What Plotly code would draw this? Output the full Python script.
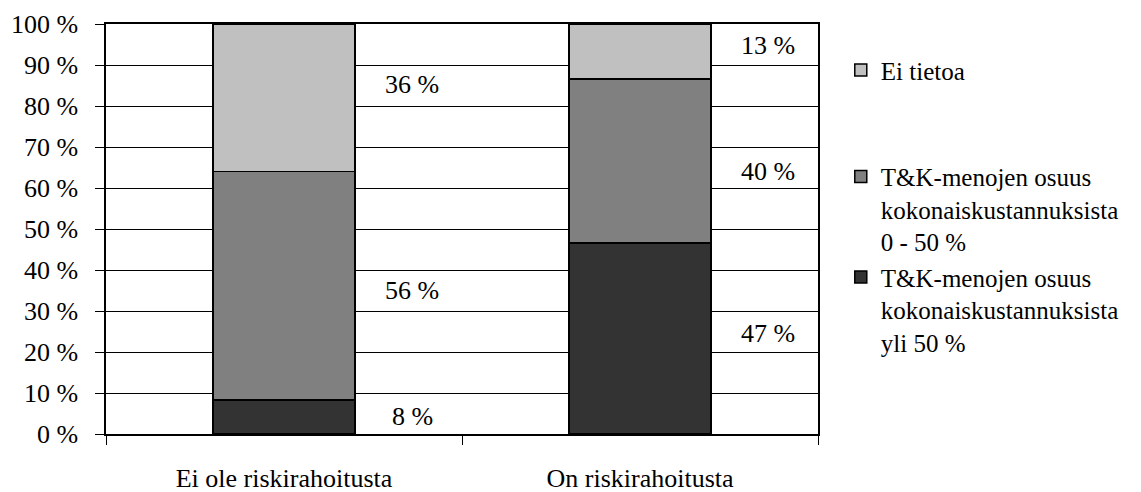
import plotly.graph_objects as go
import numpy as np

categories = ["Ei ole riskirahoitusta", "On riskirahoitusta"]
series_names = [
    "T&K-menojen osuus<br>kokonaiskustannuksista<br>yli 50 %",
    "T&K-menojen osuus<br>kokonaiskustannuksista<br>0 - 50 %",
    "Ei tietoa",
]
over50 = [8.3, 46.6]
upto50 = [55.7, 40.0]
no_info = [36.0, 13.4]
label_over50 = ["8 %", "47 %"]
label_upto50 = ["56 %", "40 %"]
label_no_info = ["36 %", "13 %"]
tick_vals = [0, 10, 20, 30, 40, 50, 60, 70, 80, 90, 100]
tick_text = ["0 %", "10 %", "20 %", "30 %", "40 %", "50 %", "60 %", "70 %", "80 %", "90 %", "100 %"]

colors = ["#333333", "#808080", "#C0C0C0"]
groups = ["b", "b", "a"]
ranks = [3, 2, 1]
values = [over50, upto50, no_info]
labels = [label_over50, label_upto50, label_no_info]
label_yshift = [[0, 5], [-5, -11], [13, 6]]

FONT = "Times New Roman, Liberation Serif, Tinos, DejaVu Serif, serif"

fig = go.Figure()
for name, vals, col, grp, rk in zip(series_names, values, colors, groups, ranks):
    fig.add_trace(go.Bar(
        x=categories, y=vals, name=name, legendgroup=grp, legendrank=rk,
        marker=dict(color=col, line=dict(color="#000000", width=1.5)),
        width=0.4, hoverinfo="skip",
    ))

annotations = []
cum = np.zeros(len(categories))
for s, (vals, labs) in enumerate(zip(values, labels)):
    vals = np.array(vals)
    mids = cum + vals / 2
    for i in range(len(categories)):
        annotations.append(dict(
            x=i + 0.36, y=mids[i], xref="x", yref="y", text=labs[i],
            showarrow=False, yshift=label_yshift[s][i],
            font=dict(family=FONT, size=26, color="#000000"),
        ))
    cum = cum + vals

fig.update_layout(
    width=1133, height=484,
    barmode="stack",
    paper_bgcolor="white", plot_bgcolor="white",
    margin=dict(l=98, r=323, t=16, b=58, autoexpand=False),
    font=dict(family=FONT, size=26, color="#000000"),
    showlegend=True,
    legend=dict(
        x=1.032, y=0.943, xanchor="left", yanchor="top",
        traceorder="grouped", valign="top",
        font=dict(family=FONT, size=25, color="#000000"),
        tracegroupgap=71, bgcolor="rgba(0,0,0,0)",
    ),
    annotations=annotations,
)
fig.update_xaxes(
    type="category", tickson="boundaries", ticks="outside", ticklen=9,
    tickcolor="#000000", tickwidth=1, automargin=False,
    showline=True, linecolor="#000000", linewidth=1.5, mirror=True,
    showgrid=False, tickfont=dict(family=FONT, size=26),
    ticklabelstandoff=20, range=[-0.5, 1.5],
)
fig.update_yaxes(
    range=[0, 100], tickvals=tick_vals, ticktext=tick_text,
    ticks="outside", ticklen=9, tickcolor="#000000", tickwidth=1,
    automargin=False,
    showline=True, linecolor="#000000", linewidth=1.5, mirror=True,
    showgrid=True, gridcolor="#000000", gridwidth=1,
    zeroline=False, tickfont=dict(family=FONT, size=26),
    ticklabelstandoff=12,
)
fig.write_html("out.html")
